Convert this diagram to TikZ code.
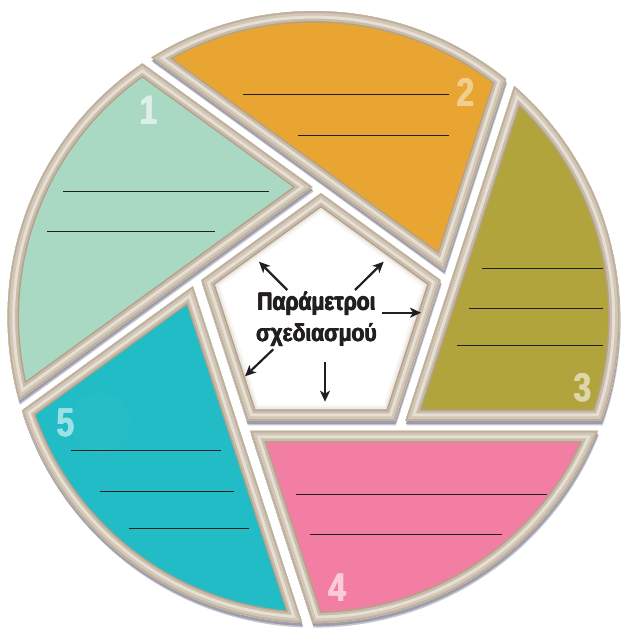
\documentclass[tikz,border=0pt]{standalone}
\usepackage{fontspec}
\setmainfont{Liberation Sans}
\newfontfamily\cfont[FakeStretch=0.86]{Liberation Sans Bold}
\newfontfamily\nfont[FakeStretch=0.78]{Liberation Sans Bold}
\usetikzlibrary{calc,arrows.meta}

\definecolor{cgreen}{HTML}{A9D8C3}
\definecolor{corange}{HTML}{E8A531}
\definecolor{colive}{HTML}{B2A43D}
\definecolor{cpink}{HTML}{F27FA3}
\definecolor{cteal}{HTML}{21BCC5}
\definecolor{bandA}{HTML}{B3A18A}
\definecolor{bandB}{HTML}{C9BCAA}
\definecolor{bandC}{HTML}{E6DFD4}
\definecolor{bandD}{HTML}{D2C7B7}
\definecolor{bandE}{HTML}{BFB09C}
\definecolor{shadA}{HTML}{C6C6D0}
\definecolor{shadB}{HTML}{9C9CAC}
\definecolor{txt}{HTML}{231F20}

\newcommand\offs[3]{%
  \coordinate (#1Ap) at ($(#2)!5pt!-90:(#3)$);
  \coordinate (#1Bp) at ($(#3)!5pt!90:(#2)$);
  \coordinate (#1Am) at ($(#2)!5pt!90:(#3)$);
  \coordinate (#1Bm) at ($(#3)!5pt!-90:(#2)$);
  \coordinate (#1Fp) at ($(#1Ap)!1800pt!(#1Bp)$);
  \coordinate (#1Fm) at ($(#1Am)!1800pt!(#1Bm)$);
}
\newcommand\shadowof[1]{%
  \begin{scope}[transform canvas={shift={(1pt,-4.5pt)}}]
    \clip (C) circle[radius=306pt];
    \fill[shadA] #1;
  \end{scope}
  \begin{scope}[transform canvas={shift={(0.5pt,-3pt)}}]
    \clip (C) circle[radius=306pt];
    \fill[shadB] #1;
  \end{scope}}
\newcommand\regionof[2]{%
  \begin{scope}
    \clip (C) circle[radius=306pt];
    \clip #1;
    \fill[#2] (0,0) rectangle (622,-629);
    \foreach \bw/\bcol in {23/bandA,20/bandB,15/bandC,9/bandD,3.5/bandE}
      \draw[line width=\bw pt,\bcol] (C) circle[radius=306pt] #1;
  \end{scope}}
% heavy text: the same text set several times with tiny offsets
\newcommand\heavy[5]{% #1 style, #2 name, #3 x, #4 y, #5 text
  \node[#1] (#2a) at (#3-0.45,#4) {#5};
  \node[#1] (#2b) at (#3+0.45,#4) {#5};
  \node[#1] (#2c) at (#3,#4+0.3) {#5};
  \node[#1] (#2) at (#3,#4) {#5};}

\begin{document}
\begin{tikzpicture}[x=1pt,y=1pt,line join=miter,
  blank/.style={line width=1.2pt,txt},
  arr/.style={line width=2.2pt,txt,-{Stealth[length=11pt,width=10pt,inset=3pt]}},
  numlab/.style={anchor=base,inner sep=0pt,font=\nfont\fontsize{40}{40}\selectfont},
  ctext/.style={anchor=base,inner sep=0pt,text=txt,font=\cfont\fontsize{24.5}{28}\selectfont}]
\useasboundingbox (0,0) rectangle (622,-629);
\fill[white] (0,0) rectangle (622,-629);

\coordinate (C) at (313.6,-317.1);
\coordinate (pc) at (321,-319);
\coordinate (pT) at ($(pc)+(90:132pt)$);
\coordinate (pL) at ($(pc)+(162:132pt)$);
\coordinate (pBL) at ($(pc)+(234:132pt)$);
\coordinate (pBR) at ($(pc)+(306:132pt)$);
\coordinate (pR) at ($(pc)+(18:132pt)$);
\coordinate (qT) at ($(pc)+(90:125.8pt)$);
\coordinate (qL) at ($(pc)+(162:125.8pt)$);
\coordinate (qBL) at ($(pc)+(234:125.8pt)$);
\coordinate (qBR) at ($(pc)+(306:125.8pt)$);
\coordinate (qR) at ($(pc)+(18:125.8pt)$);

\offs{ea}{pT}{pL}
\offs{eb}{pR}{pT}
\offs{ec}{pBR}{pR}
\offs{ed}{pBL}{pBR}
\offs{ee}{pL}{pBL}

\coordinate (V1) at (intersection of eaAp--eaBp and ebAm--ebBm);
\coordinate (V2) at (intersection of ebAp--ebBp and ecAm--ecBm);
\coordinate (V3) at (intersection of ecAp--ecBp and edAm--edBm);
\coordinate (V4) at (intersection of edAp--edBp and eeAm--eeBm);
\coordinate (V5) at (intersection of eeAp--eeBp and eaAm--eaBm);

\def\wA{(V1) -- (eaFp) -- (ebFm) -- cycle}
\def\wB{(V2) -- (ebFp) -- (ecFm) -- cycle}
\def\wC{(V3) -- (ecFp) -- (edFm) -- cycle}
\def\wD{(V4) -- (edFp) -- (eeFm) -- cycle}
\def\wE{(V5) -- (eeFp) -- (eaFm) -- cycle}
\def\wP{(qT) -- (qL) -- (qBL) -- (qBR) -- (qR) -- cycle}

% shadows
\shadowof{\wA}
\shadowof{\wB}
\shadowof{\wC}
\shadowof{\wD}
\shadowof{\wE}
\shadowof{\wP}

% segments
\regionof{\wA}{cgreen}
\regionof{\wB}{corange}
\regionof{\wC}{colive}
\regionof{\wD}{cpink}
\regionof{\wE}{cteal}

% centre pentagon
\begin{scope}
  \clip \wP;
  \fill[white] \wP;
  \draw[line width=32pt,white!88!bandB] \wP;
  \draw[line width=27pt,white!65!bandB] \wP;
  \foreach \bw/\bcol in {23/bandA,20/bandB,15/bandC,9/bandD,3.5/bandE}
    \draw[line width=\bw pt,\bcol] \wP;
\end{scope}

% faint disc behind 5
\fill[cteal!98!white] (100,-423) circle[radius=30pt];

% numbers
\heavy{numlab,text=cgreen!40!white}{n1}{149}{-124}{1}
\heavy{numlab,text=corange!55!white}{n2}{466}{-106.7}{2}
\heavy{numlab,text=colive!45!white}{n3}{583}{-401.7}{3}
\heavy{numlab,text=cpink!40!white}{n4}{337.3}{-601.7}{4}
\heavy{numlab,text=cteal!45!white}{n5}{65.7}{-436.7}{5}

% blank lines
\draw[blank] (63.3,-191.3) -- (268.7,-191.3);
\draw[blank] (47.3,-231.3) -- (215,-231.3);
\draw[blank] (243.3,-94.3) -- (449,-94.3);
\draw[blank] (298.3,-135.3) -- (449,-135.3);
\draw[blank] (482,-268.3) -- (602.7,-268.3);
\draw[blank] (469,-308.3) -- (602.7,-308.3);
\draw[blank] (457.3,-345.3) -- (602.7,-345.3);
\draw[blank] (296,-494.3) -- (546.7,-494.3);
\draw[blank] (310,-534.3) -- (501.7,-534.3);
\draw[blank] (71,-450.3) -- (220.7,-450.3);
\draw[blank] (100,-491.3) -- (234,-491.3);
\draw[blank] (129,-528.3) -- (249,-528.3);

% centre text
\heavy{ctext}{t1}{316.5}{-310}{Παράμετροι}
\heavy{ctext}{t2}{316.5}{-341.7}{σχεδιασμού}

% arrows
\coordinate (a1s) at (287.3,-290);   \coordinate (a1e) at (259,-261.7);
\coordinate (a2s) at (355,-290);     \coordinate (a2e) at (383.7,-261.7);
\coordinate (a3s) at (381.7,-312.7); \coordinate (a3e) at (421,-312.7);
\coordinate (a4s) at (273.3,-349.3); \coordinate (a4e) at (245,-376.3);
\coordinate (a5s) at (325,-361.7);   \coordinate (a5e) at (325,-401.7);
\draw[arr] (a1s) -- (a1e);
\draw[arr] (a2s) -- (a2e);
\draw[arr] (a3s) -- (a3e);
\draw[arr] (a4s) -- (a4e);
\draw[arr] (a5s) -- (a5e);
\end{tikzpicture}
\end{document}
